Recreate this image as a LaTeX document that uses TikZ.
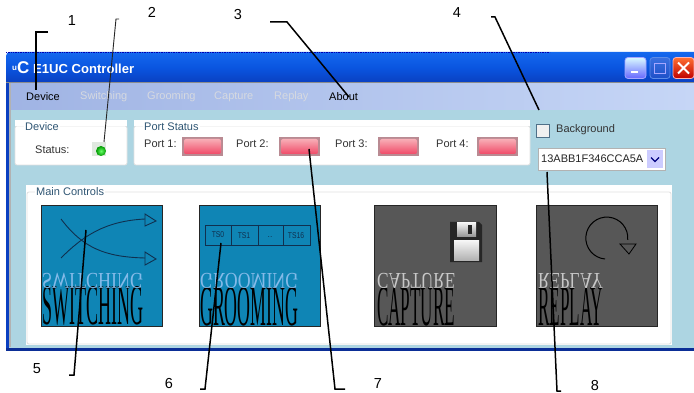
\documentclass[tikz,border=0pt]{standalone}
\usepackage{fontspec}
\usepackage{graphicx}
\setmainfont{Liberation Sans}
\newfontfamily\tileserif{Liberation Serif}
\definecolor{bodyblue}{HTML}{ADD5E2}
\definecolor{tileblue}{HTML}{0F85B5}
\definecolor{tilegrey}{HTML}{575757}
\definecolor{inkdark}{HTML}{10304F}
\definecolor{grouptitle}{HTML}{2F5573}
\definecolor{menugrey}{HTML}{D6D9E0}
\definecolor{titletop}{HTML}{1468EE}
\definecolor{titlemid}{HTML}{0A55E0}
\definecolor{titlebot}{HTML}{0A3FC0}
\definecolor{menuleft}{HTML}{A0B4E4}
\definecolor{menuright}{HTML}{C6D6F6}
\definecolor{ledframecol}{HTML}{B98A92}
\definecolor{ledtop}{HTML}{F8AEB6}
\definecolor{ledbot}{HTML}{F04A68}
\definecolor{checkedge}{HTML}{4F7088}
\definecolor{maxtop}{HTML}{3A70E0}
\definecolor{maxbot}{HTML}{1E50C8}
\definecolor{maxedge}{HTML}{5C8CE8}
\definecolor{navyline}{HTML}{0B2E96}
\newcommand{\tiletext}[5]{%
  \node[inner sep=0pt,anchor=south west] (#1main) at (#2,326) {\tileserif\resizebox{#3pt}{38pt}{#4}};
  \node[inner sep=0pt,anchor=north west,text=#5] (#1mirror) at (#2,273) {\tileserif\scalebox{1}[-1]{\resizebox{#3pt}{15pt}{#4}}};
}
\tikzset{
  leader/.style={draw=black,line width=1.5pt,line join=miter},
  leaderthin/.style={draw=black!85,line width=0.9pt},
  num/.style={font=\fontsize{14.5}{16}\selectfont,inner sep=0pt},
  menuitem/.style={font=\fontsize{11}{12}\selectfont,inner sep=0pt,anchor=west},
  ui/.style={font=\fontsize{11}{13}\selectfont,inner sep=0pt,anchor=west,text=black!80},
  grouphead/.style={font=\fontsize{11}{13}\selectfont,inner sep=1pt,anchor=west,text=grouptitle,fill=white},
  groupbox/.style={draw=black!12,line width=0.8pt,fill=white,rounded corners=2pt},
  tile/.style={draw=black!85,line width=0.7pt},
  led/.style={rounded corners=2pt,top color=ledtop,bottom color=ledbot,draw=none},
  ledframe/.style={fill=ledframecol,draw=none},
  ts/.style={font=\fontsize{8.5}{10}\selectfont,inner sep=0pt,text=inkdark},
  icon/.style={draw=inkdark,line width=0.9pt},
}
\begin{document}
\begin{tikzpicture}[x=1pt,y=-1pt]
\useasboundingbox (0,0) rectangle (694,393);
\fill[white] (0,0) rectangle (694,393);
% window
\fill[bodyblue] (6,83) rectangle (694,350);
\shade[top color=titletop,bottom color=titlebot,middle color=titlemid]
   (6,60) [rounded corners=4pt] -- (6,52) [sharp corners] -- (694,52) -- (694,83) -- (6,83) -- cycle;
\draw[blue!70!black,line width=0.7pt,densely dotted] (6,52) -- (550,52);
\fill[black!45] (6,82) rectangle (694,84);
\shade[left color=menuleft,right color=menuright] (11,84) rectangle (694,110);
\fill[titlebot] (6,83) rectangle (9,350);
\fill[black!30] (9,83) rectangle (11,347);
\fill[navyline] (6,348) rectangle (694,351);
% title
\node[inner sep=0pt,anchor=west,text=white,font=\bfseries\fontsize{12.5}{13}\selectfont] (wintitle) at (33,69) {\resizebox{101pt}{!}{E1UC Controller}};
\node[inner sep=0pt,anchor=west,text=white,font=\bfseries\fontsize{12}{13}\selectfont] (winicon) at (12,68) {\raisebox{3pt}{\fontsize{8}{9}\selectfont u}\fontsize{17}{17}\selectfont C};
% buttons
\node[draw=white!65!blue,line width=0.8pt,rounded corners=3pt,inner sep=0pt,minimum width=21pt,minimum height=21pt,top color=blue!15!cyan!15!white,bottom color=blue!60!white] (btnmin) at (635.5,68) {};
\fill[white] (631,71.5) rectangle (638,73.5);
\node[draw=maxedge,line width=0.8pt,rounded corners=3pt,inner sep=0pt,minimum width=20pt,minimum height=21pt,top color=maxtop,bottom color=maxbot] (btnmax) at (660,68) {};
\draw[blue!35!white,line width=0.8pt] (654,63) rectangle (665,73);
\node[draw=white!70!red,line width=0.8pt,rounded corners=3pt,inner sep=0pt,minimum width=21pt,minimum height=21pt,top color=orange!60!red!80!white,bottom color=red!75!black] (btnclose) at (683.5,68) {};
\draw[white,line width=2pt] (678,62.5) -- (689,73.5) (689,62.5) -- (678,73.5);
% menu
\node[menuitem] (mdevice) at (26,97) {Device};
\node[menuitem,text=menugrey] (mswitch) at (80,97) {Switching};
\node[menuitem,text=menugrey] (mgroom) at (147,97) {Grooming};
\node[menuitem,text=menugrey] (mcapture) at (214,97) {Capture};
\node[menuitem,text=menugrey] (mreplay) at (274,97) {Replay};
\node[menuitem] (mabout) at (329,97) {About};
% groups
\draw[groupbox] (15,126) rectangle (127,165);
\fill[white] (15,120) rectangle (127,126);
\node[grouphead] (gdevice) at (24,127) {Device};
\node[ui] (lstatus) at (35,150) {Status:};
\fill[green!25!black!12!white] (92,142) rectangle (106,156);
\shade[inner color=green!60!white,outer color=green!60!black,draw=none] (101,151) circle (5);
\draw[groupbox] (134,126) rectangle (530,165);
\fill[white] (134,120) rectangle (530,126);
\node[grouphead] (gport) at (143,127) {Port Status};
\node[ui] (lp1) at (144,144) {Port 1:};
\node[ui] (lp2) at (236,144) {Port 2:};
\node[ui] (lp3) at (335,144) {Port 3:};
\node[ui] (lp4) at (436,144) {Port 4:};
\foreach \n/\x in {a/182,b/279,c/378,d/477}{
  \fill[ledframe] (\x,137) rectangle ++(41,19);
  \path[led] (\x+2,139) rectangle ++(37,15);
}
% background checkbox
\draw[checkedge,line width=0.7pt,fill=white!94!black] (536,124) rectangle (549,137);
\node[ui] (lbg) at (556,130) {Background};
\node[draw=black!30,line width=0.8pt,fill=white,minimum width=127pt,minimum height=22pt,inner sep=0pt] (combo) at (601.5,159) {};
\node[ui,text=black!85] (combotext) at (541,159) {13ABB1F346CCA5A};
\fill[blue!20!white] (647,150) rectangle (663,168);
\draw[blue!50!black,line width=1.2pt] (651,157.5) -- (655,161.5) -- (659,157.5);
% main controls
\fill[white] (26,185) rectangle (672,345);
\draw[black!12,line width=0.8pt,rounded corners=2pt] (27,192) -- (27,344) -- (671,344) -- (671,192) -- cycle;
\node[grouphead] (gmain) at (35,192) {Main Controls};
% tiles
\path[fill=tileblue,tile] (41,205) rectangle (162,326);
\path[fill=tileblue,tile] (199,205) rectangle (320,326);
\path[fill=tilegrey,tile] (374,205) rectangle (496,326);
\path[fill=tilegrey,tile] (536,205) rectangle (657,326);
\tiletext{sw}{42}{101}{SWITCHING}{cyan!40!white!85!blue}
\tiletext{gr}{200}{98}{GROOMING}{cyan!40!white!85!blue}
\tiletext{ca}{377}{78}{CAPTURE}{black!22}
\tiletext{re}{538}{65}{REPLAY}{black!22}
% switching icon
\draw[icon] (61,219) .. controls (83,248) and (105,257) .. (145,258);
\draw[icon] (61,258) .. controls (83,236) and (105,221) .. (145,219);
\draw[icon] (145,214) -- (156,221) -- (145,226) -- cycle;
\draw[icon] (145,252) -- (156,259) -- (145,265) -- cycle;
% grooming icon
\draw[icon,line width=0.7pt] (205,225) rectangle (310,245);
\draw[icon,line width=0.7pt] (231,225) -- (231,245) (258,225) -- (258,245) (283,225) -- (283,245);
\node[ts] (ts0) at (218,235) {\scalebox{0.8}[1]{TS0}};
\node[ts] (ts1) at (244,236) {\scalebox{0.8}[1]{TS1}};
\node[ts] (tsd) at (270,237) {..};
\node[ts] (ts16) at (296,236) {\scalebox{0.8}[1]{TS16}};
% floppy
\fill[black!85] (450,222) -- (479,222) -- (482,225) -- (482,262) -- (450,262) -- cycle;
\shade[top color=black!5,bottom color=black!40] (457,223) rectangle (476,236);
\fill[black!85] (468,225) rectangle (472,234);
\shade[top color=black!3,bottom color=black!30] (454,240) rectangle (479,260);
% replay icon
\draw[black,line width=1pt] (605,259) arc[start angle=95,end angle=365,radius=21];
\draw[black,line width=0.8pt] (620,244) -- (636,244) -- (629,254) -- cycle;
% leaders
\coordinate (l1a) at (48,32); \coordinate (l1b) at (36,32); \coordinate (l1c) at (36,90);
\coordinate (l2a) at (119,19); \coordinate (l2b) at (116,19); \coordinate (l2c) at (104,142);
\coordinate (l3a) at (270,22); \coordinate (l3b) at (287,22); \coordinate (l3c) at (349,97);
\coordinate (l4a) at (491,17); \coordinate (l4b) at (495,17); \coordinate (l4c) at (539,110);
\coordinate (l5a) at (86,230); \coordinate (l5b) at (74,375); \coordinate (l5c) at (69,375);
\coordinate (l6a) at (221,243); \coordinate (l6b) at (205,389); \coordinate (l6c) at (200,389);
\coordinate (l7a) at (309,149); \coordinate (l7b) at (335,389); \coordinate (l7c) at (345,389);
\coordinate (l8a) at (547,172); \coordinate (l8b) at (557,391); \coordinate (l8c) at (561,391);
\draw[leader] (l1a) -- (l1b) -- (l1c);
\draw[leaderthin] (l2a) -- (l2b) -- (l2c);
\draw[leader] (l3a) -- (l3b) -- (l3c);
\draw[leader] (l4a) -- (l4b) -- (l4c);
\draw[leader] (l5a) -- (l5b) -- (l5c);
\draw[leader] (l6a) -- (l6b) -- (l6c);
\draw[leader] (l7a) -- (l7b) -- (l7c);
\draw[leader] (l8a) -- (l8b) -- (l8c);
% numbers
\node[num] (n1) at (72,21) {1};
\node[num] (n2) at (152,12) {2};
\node[num] (n3) at (238,15) {3};
\node[num] (n4) at (457,13) {4};
\node[num] (n5) at (37,369) {5};
\node[num] (n6) at (169,384) {6};
\node[num] (n7) at (378,384) {7};
\node[num] (n8) at (595,386) {8};
\end{tikzpicture}
\end{document}
